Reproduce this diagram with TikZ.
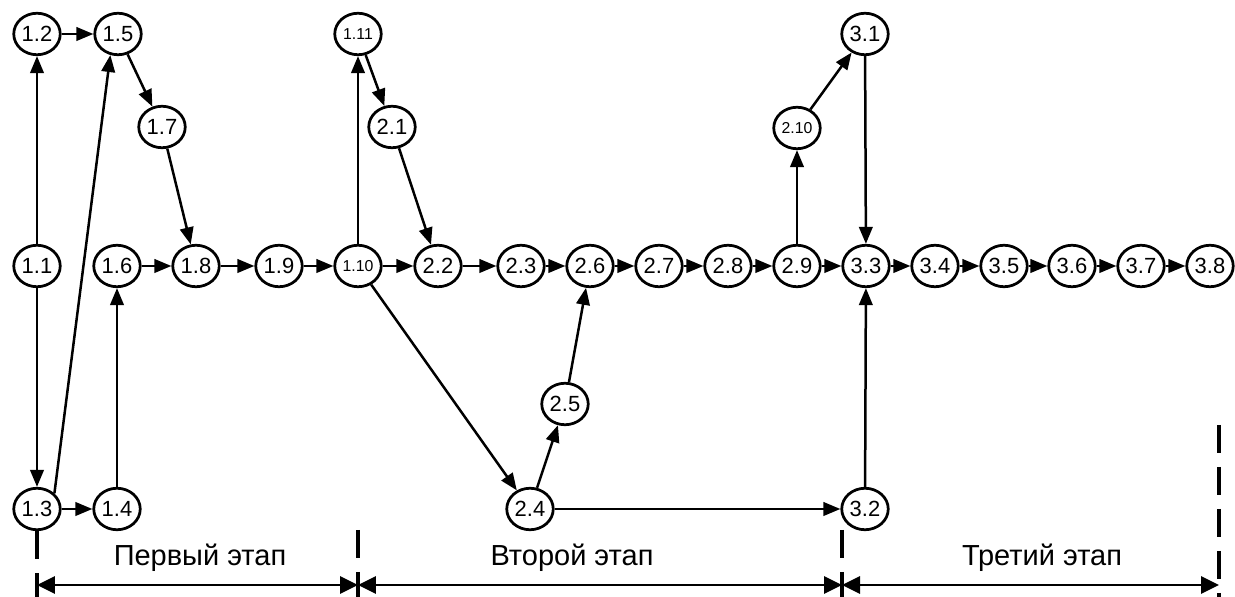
\documentclass[tikz,border=0pt]{standalone}
\usepackage{fontspec}
\setmainfont{Liberation Sans}
\usetikzlibrary{arrows.meta}
\usetikzlibrary{shapes.geometric}

\begin{document}
\begin{tikzpicture}[x=0.02cm, y=-0.02cm,
    state/.style={draw, ellipse, line width=0.055cm, minimum width=0.93cm, minimum height=0.83cm, inner sep=0pt, font=\fontsize{12.5}{14}\selectfont},
    smalltext/.style={font=\fontsize{9}{11}\selectfont},
    link/.style={line width=0.05cm, -{Triangle[length=0.34cm, width=0.27cm]}},
    stageline/.style={line width=0.075cm, dash pattern=on 0.56cm off 0.28cm},
    stagespan/.style={line width=0.055cm, {Triangle[length=0.36cm, width=0.34cm]}-{Triangle[length=0.36cm, width=0.34cm]}},
    phase/.style={font=\fontsize{16.5}{19}\selectfont}]
\useasboundingbox (0,0) rectangle (1235,597);
% first stage
\node[state] (n1-1) at (37,266) {1.1};
\node[state] (n1-2) at (37,34) {1.2};
\node[state] (n1-3) at (37,509) {1.3};
\node[state] (n1-4) at (117,509) {1.4};
\node[state] (n1-5) at (118,34) {1.5};
\node[state] (n1-6) at (117,266) {1.6};
\node[state] (n1-7) at (162,127) {1.7};
\node[state] (n1-8) at (196,266) {1.8};
\node[state] (n1-9) at (279,266) {1.9};
\node[state, smalltext] (n1-10) at (358,266) {1.10};
\node[state, smalltext] (n1-11) at (358,34) {1.11};
% second stage
\node[state] (n2-1) at (392,127) {2.1};
\node[state] (n2-2) at (438,266) {2.2};
\node[state] (n2-3) at (521,266) {2.3};
\node[state] (n2-4) at (530,509) {2.4};
\node[state] (n2-5) at (565,404) {2.5};
\node[state] (n2-6) at (590,266) {2.6};
\node[state] (n2-7) at (659,266) {2.7};
\node[state] (n2-8) at (728,266) {2.8};
\node[state] (n2-9) at (797,266) {2.9};
\node[state, smalltext] (n2-10) at (797,128) {2.10};
% third stage
\node[state] (n3-1) at (865,34) {3.1};
\node[state] (n3-2) at (865,509) {3.2};
\foreach \i/\x in {3/866,4/935,5/1004,6/1072,7/1141,8/1210}
  \node[state] (n3-\i) at (\x,266) {3.\i};

\draw[link] (n1-1) -- (n1-2);
\draw[link] (n1-1) -- (n1-3);
\draw[link] (n1-2) -- (n1-5);
\draw[link] (n1-3.north east) -- (n1-5.250);
\draw[link] (n1-3) -- (n1-4);
\draw[link] (n1-4) -- (n1-6);
\draw[link] (n1-5) -- (n1-7);
\draw[link] (n1-6) -- (n1-8);
\draw[link] (n1-7) -- (n1-8);
\draw[link] (n1-8) -- (n1-9);
\draw[link] (n1-9) -- (n1-10);
\draw[link] (n1-10) -- (n1-11);
\draw[link] (n1-11) -- (n2-1);
\draw[link] (n2-1) -- (n2-2);
\draw[link] (n1-10) -- (n2-2);
\draw[link] (n1-10) -- (n2-4);
\draw[link] (n2-2) -- (n2-3);
\draw[link] (n2-3) -- (n2-6);
\draw[link] (n2-4) -- (n2-5);
\draw[link] (n2-5) -- (n2-6);
\draw[link] (n2-4) -- (n3-2);
\draw[link] (n2-6) -- (n2-7);
\draw[link] (n2-7) -- (n2-8);
\draw[link] (n2-8) -- (n2-9);
\draw[link] (n2-9) -- (n3-3);
\draw[link] (n2-9) -- (n2-10);
\draw[link] (n2-10) -- (n3-1);
\draw[link] (n3-1) -- (n3-3);
\draw[link] (n3-2) -- (n3-3);
\foreach \i [evaluate=\i as \j using int(\i+1)] in {3,...,7}
  \draw[link] (n3-\i) -- (n3-\j);

% stages
\coordinate (t1) at (358,530);
\coordinate (t2) at (842,530);
\coordinate (t3) at (1219,425);
\coordinate (b0) at (37,597);
\coordinate (b1) at (358,597);
\coordinate (b2) at (842,597);
\coordinate (b3) at (1219,597);
\coordinate (m0) at (37,585);
\coordinate (m1) at (358,585);
\coordinate (m2) at (842,585);
\coordinate (m3) at (1219,585);
\draw[stageline] (n1-3.south) -- (b0);
\draw[stageline] (t1) -- (b1);
\draw[stageline] (t2) -- (b2);
\draw[stageline] (t3) -- (b3);
\draw[stagespan] (m0) -- (m1);
\draw[stagespan] (m1) -- (m2);
\draw[stagespan] (m2) -- (m3);
\node[phase] (ph1) at (200,558) {Первый этап};
\node[phase] (ph2) at (572,558) {Второй этап};
\node[phase] (ph3) at (1042,558) {Третий этап};
\end{tikzpicture}
\end{document}
